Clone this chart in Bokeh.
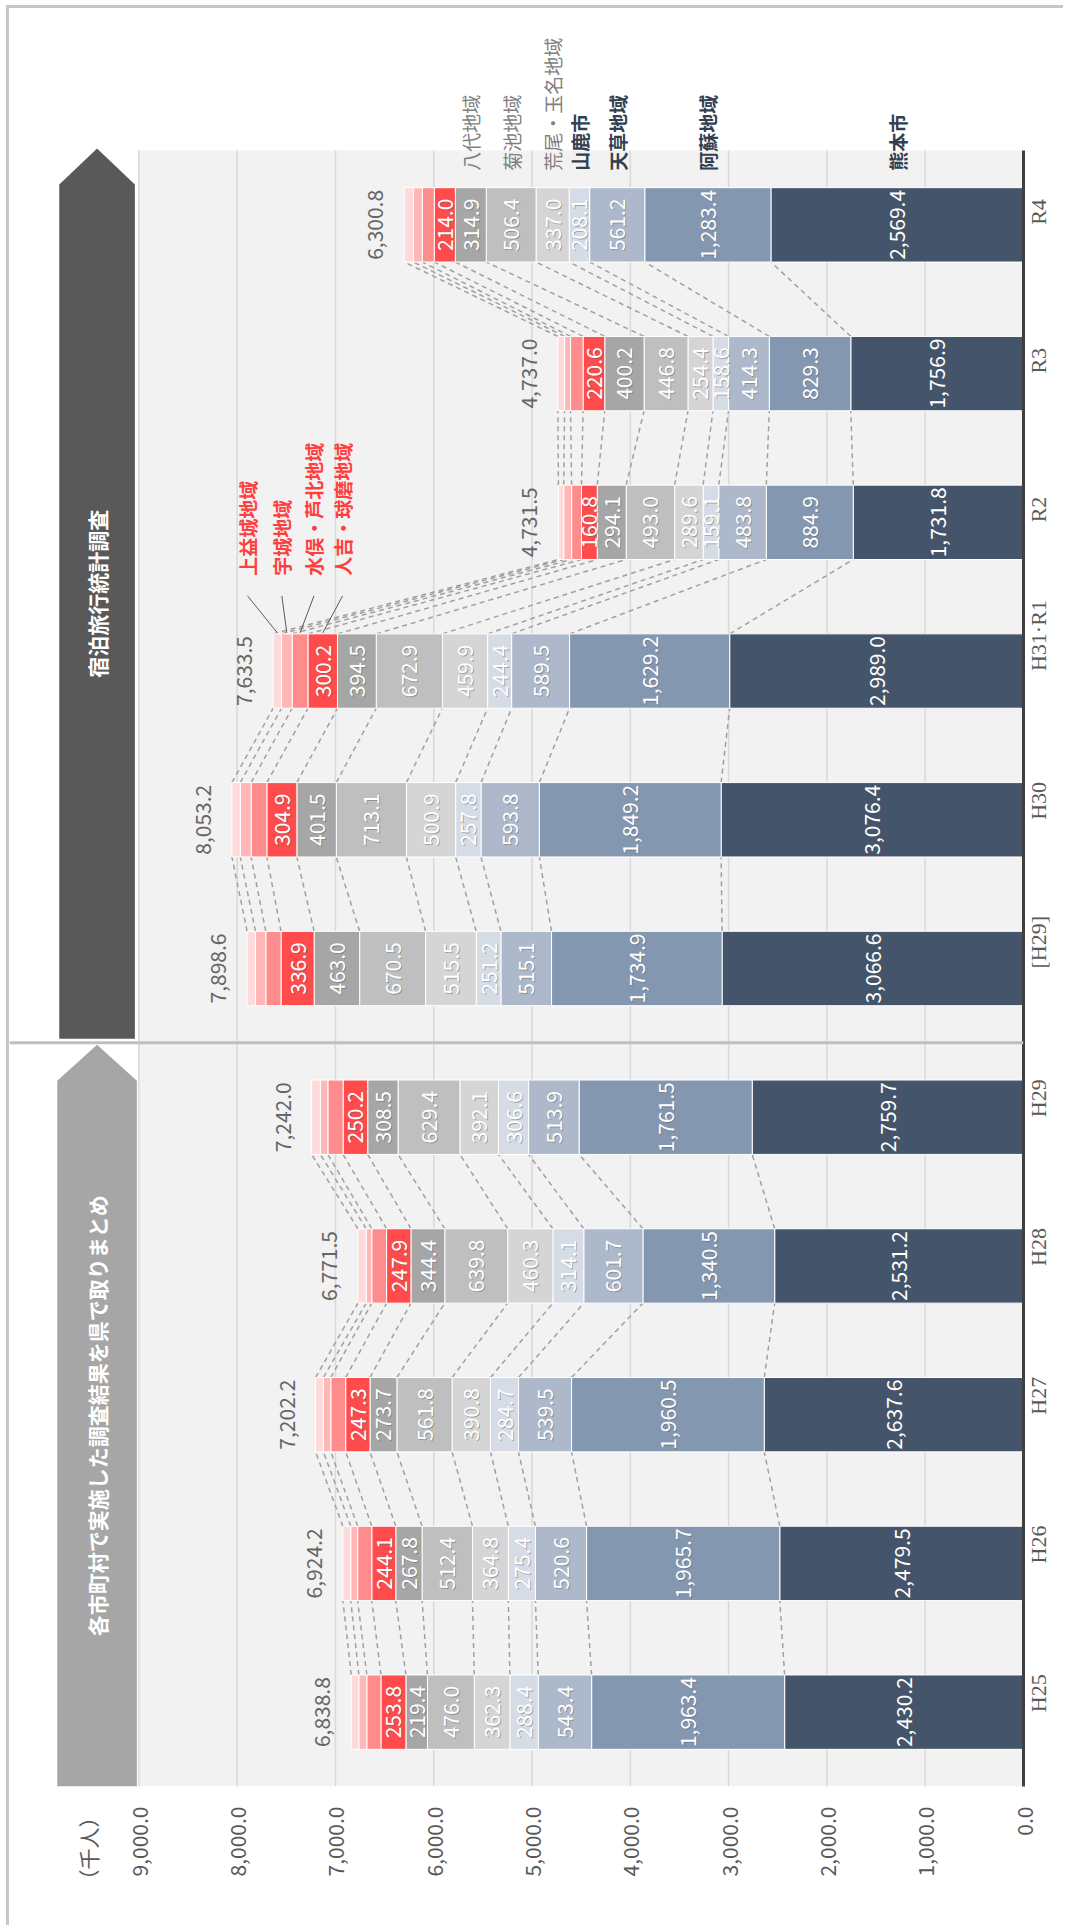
import math
import numpy as np
from bokeh.plotting import figure
from bokeh.models import (ColumnDataSource, Range1d, FixedTicker,
                          NumeralTickFormatter, BoxAnnotation, Span)
from bokeh.core.properties import value
from bokeh.embed import file_html
from bokeh.resources import INLINE

# ---------------- data ----------------
CATEGORIES = ["H25", "H26", "H27", "H28", "H29", "[H29]", "H30", "H31·R1", "R2", "R3", "R4"]
SECTIONS = [0, 0, 0, 0, 0, 1, 1, 1, 1, 1, 1]
SECTION_TITLES = ["各市町村で実施した調査結果を県で取りまとめ", "宿泊旅行統計調査"]

SERIES = ["熊本市", "阿蘇地域", "天草地域", "山鹿市", "荒尾・玉名地域", "菊池地域", "八代地域",
          "人吉・球磨地域", "水俣・芦北地域", "宇城地域", "上益城地域"]

KUMAMOTO = [2430.2, 2479.5, 2637.6, 2531.2, 2759.7, 3066.6, 3076.4, 2989.0, 1731.8, 1756.9, 2569.4]
ASO = [1963.4, 1965.7, 1960.5, 1340.5, 1761.5, 1734.9, 1849.2, 1629.2, 884.9, 829.3, 1283.4]
AMAKUSA = [543.4, 520.6, 539.5, 601.7, 513.9, 515.1, 593.8, 589.5, 483.8, 414.3, 561.2]
YAMAGA = [288.4, 275.4, 284.7, 314.1, 306.6, 251.2, 257.8, 244.4, 159.1, 158.6, 208.1]
ARAO_TAMANA = [362.3, 364.8, 390.8, 460.3, 392.1, 515.5, 500.9, 459.9, 289.6, 254.4, 337.0]
KIKUCHI = [476.0, 512.4, 561.8, 639.8, 629.4, 670.5, 713.1, 672.9, 493.0, 446.8, 506.4]
YATSUSHIRO = [219.4, 267.8, 273.7, 344.4, 308.5, 463.0, 401.5, 394.5, 294.1, 400.2, 314.9]
HITOYOSHI_KUMA = [253.8, 244.1, 247.3, 247.9, 250.2, 336.9, 304.9, 300.2, 160.8, 220.6, 214.0]
MINAMATA_ASHIKITA = [143.9, 143.9, 151.3, 150.6, 155.1, 154.9, 160.6, 161.0, 100.4, 126.9, 121.4]
UKI = [81.0, 70.0, 75.0, 57.0, 76.0, 105.0, 110.0, 108.0, 80.0, 61.0, 92.0]
KAMIMASHIKI = [77.0, 80.0, 80.0, 84.0, 89.0, 85.0, 85.0, 84.9, 54.0, 68.0, 93.0]

TOTALS = [6838.8, 6924.2, 7202.2, 6771.5, 7242.0, 7898.6, 8053.2, 7633.5, 4731.5, 4737.0, 6300.8]

VALUES = [KUMAMOTO, ASO, AMAKUSA, YAMAGA, ARAO_TAMANA, KIKUCHI, YATSUSHIRO,
          HITOYOSHI_KUMA, MINAMATA_ASHIKITA, UKI, KAMIMASHIKI]

VALUE_TICKS = [0, 1000, 2000, 3000, 4000, 5000, 6000, 7000, 8000, 9000]
UNIT_LABEL = "（千人）"

# ---------------- style / layout ----------------
COLORS = ["#44546A", "#8497B0", "#ADB9CA", "#D6DCE5", "#D5D5D5", "#BFBFBF", "#A6A6A6",
          "#FF4B4B", "#FF8C8C", "#FFB6B6", "#FFDADA"]
N_LABELLED = 8
NAVY_NAMES = 4
NAME_CAT = "R4"
CALLOUT_CAT = "H31·R1"
CALLOUT_SHIFT_PX = [20, 14, -5, -30]
FONT = "Noto Sans CJK JP"

W, H = 1057, 1920
PLOT_TOP = 142        # px from canvas top where the value area starts
BOTTOM = 142
RIGHT = 38
FRAME_W = W - RIGHT
FRAME_H = H - BOTTOM
PX_9000 = 130
PX_PER_UNIT = (FRAME_W - PX_9000) / 9000.0
X_START = 9000 + PX_9000 / PX_PER_UNIT
N = len(CATEGORIES)
BAND_PX = (FRAME_H - PLOT_TOP) / N
Y_TOP = N + PLOT_TOP / BAND_PX
BAR_H = 0.5
Y_POS = [i + 0.5 for i in range(N)]


def dy(px):
    return px / BAND_PX


def xval(px_from_left):
    return X_START - px_from_left / PX_PER_UNIT


p = figure(width=W, height=H, x_range=Range1d(X_START, 0), y_range=Range1d(0, Y_TOP),
           y_axis_location="right", output_backend="svg", toolbar_location=None,
           min_border_left=0, min_border_right=RIGHT, min_border_top=0,
           min_border_bottom=BOTTOM,
           styles={"margin-left": "9px", "margin-top": "8px",
                   "box-shadow": "-3px -3px 0px 0px #C6C6C6"})
p.outline_line_color = None
p.background_fill_color = "white"
p.border_fill_color = "white"
p.grid.visible = False

# plot background (value area only)
p.add_layout(BoxAnnotation(left=9000, right=0, bottom=0, top=N, fill_color="#F2F2F2",
                           fill_alpha=1.0, line_color=None, level="image"))

# value axis (below)
UNIT_TICK = round(xval(79))
xa = p.xaxis[0]
xa.ticker = FixedTicker(ticks=VALUE_TICKS + [UNIT_TICK])
xa.formatter = NumeralTickFormatter(format="0,0.0")
xa.major_label_overrides = {UNIT_TICK: UNIT_LABEL}
xa.major_label_orientation = math.pi / 2
xa.axis_line_color = None
xa.major_tick_line_color = None
xa.minor_tick_line_color = None
xa.major_label_standoff = 14
xa.major_label_text_font = FONT
xa.major_label_text_font_size = "21px"
xa.major_label_text_color = "#595959"

# category axis (right)
ya = p.yaxis[0]
ya.ticker = FixedTicker(ticks=Y_POS)
ya.major_label_overrides = {y: c for y, c in zip(Y_POS, CATEGORIES)}
ya.bounds = (0, N)
ya.major_label_orientation = math.pi / 2
ya.axis_line_color = "#404040"
ya.axis_line_width = 3
ya.major_tick_line_color = None
ya.minor_tick_line_color = None
ya.major_label_standoff = 9
ya.major_label_text_font = "Liberation Serif"
ya.major_label_text_font_size = "22px"
ya.major_label_text_color = "#595959"

# grid lines (value area only)
GRID = VALUE_TICKS[1:]
p.segment(x0=GRID, y0=[0] * len(GRID), x1=GRID, y1=[N] * len(GRID),
          line_color="#D9D9D9", line_width=1.5)

# ---------------- connectors ----------------
vals = np.array(VALUES)
cum = np.cumsum(vals, axis=0)
cx0, cx1, cy0, cy1 = [], [], [], []
for i in range(N - 1):
    if SECTIONS[i] != SECTIONS[i + 1]:
        continue
    for k in range(len(SERIES)):
        cx0.append(cum[k, i]); cx1.append(cum[k, i + 1])
        cy0.append(Y_POS[i] + BAR_H / 2); cy1.append(Y_POS[i + 1] - BAR_H / 2)
p.segment(x0=cx0, y0=cy0, x1=cx1, y1=cy1, line_color="#A0A0A0", line_width=1.5,
          line_dash="5 4")

# ---------------- bars ----------------
src = ColumnDataSource(dict(y=Y_POS, **{s: v for s, v in zip(SERIES, VALUES)}))
p.hbar_stack(SERIES, y="y", height=BAR_H, fill_color=COLORS, source=src,
             line_color="white", line_width=1)

# value labels inside bars
lx, ly, lt = [], [], []
for i in range(N):
    start = 0.0
    for k in range(N_LABELLED):
        v = VALUES[k][i]
        lx.append(start + v / 2); ly.append(Y_POS[i]); lt.append(f"{v:,.1f}")
        start += v
p.text(x=lx, y=ly, text=lt, angle=math.pi / 2, text_align="center", text_baseline="middle",
       text_color="#5A5A5A", text_alpha=0.45, x_offset=1, y_offset=1,
       text_font=value(FONT), text_font_size="21px")
p.text(x=lx, y=ly, text=lt, angle=math.pi / 2, text_align="center", text_baseline="middle",
       text_color="white", text_font=value(FONT), text_font_size="21px")

# totals
p.text(x=TOTALS, y=Y_POS, text=[f"{t:,.1f}" for t in TOTALS], angle=math.pi / 2,
       x_offset=-29, text_align="center", text_baseline="middle", text_color="#666666",
       text_font=value(FONT), text_font_size="21px")

# ---------------- series names above R4 ----------------
ni = CATEGORIES.index(NAME_CAT)
name_x = [cum[k, ni] - VALUES[k][ni] / 2 for k in range(N_LABELLED - 1)]
name_y = Y_POS[ni] + BAR_H / 2 + dy(17)
p.text(x=name_x[:NAVY_NAMES], y=[name_y] * NAVY_NAMES, text=SERIES[:NAVY_NAMES],
       angle=math.pi / 2, text_align="left", text_baseline="middle", text_color="#333F50",
       text_font=value(FONT), text_font_size="19px", text_font_style="bold")
p.text(x=name_x[NAVY_NAMES:], y=[name_y] * (len(name_x) - NAVY_NAMES),
       text=SERIES[NAVY_NAMES:N_LABELLED - 1], angle=math.pi / 2, text_align="left",
       text_baseline="middle", text_color="#7F7F7F", text_font=value(FONT),
       text_font_size="19px")

# ---------------- red call-outs ----------------
ci = CATEGORIES.index(CALLOUT_CAT)
bar_top = Y_POS[ci] + BAR_H / 2
seg_c = [cum[k, ci] - VALUES[k][ci] / 2 for k in range(N_LABELLED - 1, len(SERIES))]
lab_x = [c - s / PX_PER_UNIT for c, s in zip(seg_c, CALLOUT_SHIFT_PX)]
p.segment(x0=seg_c, y0=[bar_top + dy(1)] * len(seg_c), x1=lab_x,
          y1=[bar_top + dy(38)] * len(seg_c), line_color="#595959", line_width=1)
p.text(x=lab_x, y=[bar_top + dy(58)] * len(lab_x), text=SERIES[N_LABELLED - 1:],
       angle=math.pi / 2, text_align="left", text_baseline="middle", text_color="#FF3F3F",
       text_font=value(FONT), text_font_size="19px", text_font_style="bold")

# ---------------- section banners ----------------
split = SECTIONS.index(1)
banners = [
    (48, 128, 0.0, split - dy(2), "#A6A6A6", SECTION_TITLES[0]),
    (50, 126, split + dy(4), N + dy(2), "#595959", SECTION_TITLES[1]),
]
for pl, pr, b, tip, col, title in banners:
    xl, xr = xval(pl), xval(pr)
    sh = tip - dy(36)
    p.patch(x=[xl, xl, (xl + xr) / 2, xr, xr], y=[b, sh, tip, sh, b], fill_color=col,
            line_color=None)
    p.text(x=[(xl + xr) / 2], y=[(b + tip) / 2], text=[title], angle=math.pi / 2,
           text_align="center", text_baseline="middle", text_color="white",
           text_font=value(FONT), text_font_size="21px", text_font_style="bold")

p.add_layout(Span(location=split, dimension="width", line_color="#BFBFBF", line_width=3))

open("out.html", "w").write(file_html(p, INLINE))
